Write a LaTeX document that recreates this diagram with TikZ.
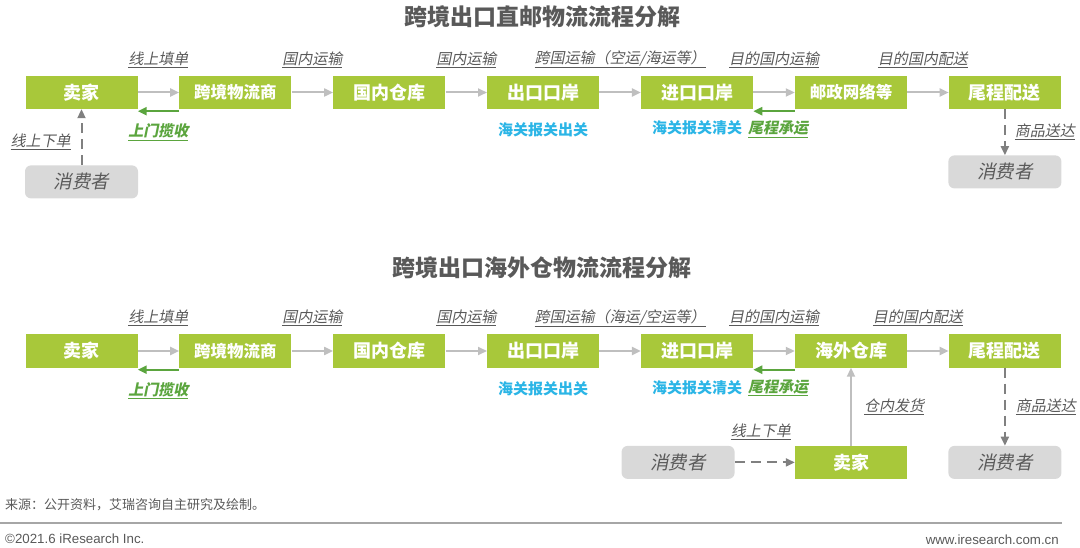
\documentclass[tikz,border=0pt]{standalone}
\usepackage{fontspec}
\usepackage{tikz}
\usetikzlibrary{positioning, arrows.meta}
\setmainfont{Liberation Sans}
\newfontfamily\cjk{Noto Sans CJK SC}
\newfontfamily\cjkit[FakeSlant=0.2]{Noto Sans CJK SC}
\definecolor{stagegreen}{HTML}{A8C83A}
\definecolor{pickgreen}{HTML}{5BA53E}
\definecolor{customsblue}{HTML}{2BB5E6}
\definecolor{flowgray}{HTML}{BFBFBF}
\definecolor{ordergray}{HTML}{808080}
\definecolor{buyerfill}{HTML}{D9D9D9}
\definecolor{textgray}{HTML}{595959}
\definecolor{rulegray}{HTML}{A6A6A6}

\begin{document}
\begin{tikzpicture}[x=1pt, y=-1pt, node distance=41.5pt,
    stage/.style={fill=stagegreen, minimum width=112pt, minimum height=33pt, inner sep=0pt, text=white, font=\cjk\bfseries\fontsize{18}{20}\selectfont},
    long/.style={font=\cjk\bfseries\fontsize{16.5}{18}\selectfont},
    buyer/.style={fill=buyerfill, rounded corners=6pt, minimum width=113pt, minimum height=33pt, inner sep=0pt, text=textgray, font=\cjkit\fontsize{18.5}{20}\selectfont},
    flow/.style={flowgray, line width=2pt, -{Triangle[length=9pt, width=8pt]}},
    order/.style={ordergray, line width=2pt, dash pattern=on 10pt off 6pt, -{Triangle[length=9pt, width=8pt]}},
    pickup/.style={pickgreen, line width=2.2pt, -{Triangle[length=9pt, width=8pt]}},
    note/.style={text=textgray, inner sep=0pt, font=\cjkit\fontsize{15}{17}\selectfont},
    greennote/.style={text=pickgreen, inner sep=0pt, font=\cjkit\bfseries\fontsize{15}{17}\selectfont},
    bluenote/.style={text=customsblue, inner sep=0pt, font=\cjk\bfseries\fontsize{15}{17}\selectfont},
    heading/.style={text=textgray, font=\cjk\bfseries\fontsize{23}{25}\selectfont},
    footnote/.style={anchor=west, inner sep=0pt, text=textgray, font=\fontsize{13.3}{15}\selectfont}]
    \useasboundingbox (0,0) rectangle (1080,548);

    % direct mail
    \node[heading] (title_a) at (542,17) {跨境出口直邮物流流程分解};
    \node[stage] (seller_a) at (81.5,92.5) {卖家};
    \node[stage, long, right=of seller_a] (forwarder_a) {跨境物流商};
    \node[stage, right=of forwarder_a] (depot_a) {国内仓库};
    \node[stage, right=of depot_a] (export_a) {出口口岸};
    \node[stage, right=of export_a] (import_a) {进口口岸};
    \node[stage, long, right=of import_a] (post_a) {邮政网络等};
    \node[stage, right=of post_a] (lastmile_a) {尾程配送};
    \node[buyer, below=56pt of seller_a] (buyer_a) {消费者};
    \node[buyer, below=46pt of lastmile_a] (buyer_b) {消费者};
    \node[bluenote] (out_a) at ([yshift=-21pt]export_a.south) {海关报关出关};
    \node[bluenote] (clear_a) at ([yshift=-19pt]import_a.south) {海关报关清关};

    \draw[flow] (seller_a) -- node[note, yshift=33pt] {\underline{线上填单}} (forwarder_a);
    \draw[flow] (forwarder_a) -- node[note, yshift=33pt] {\underline{国内运输}} (depot_a);
    \draw[flow] (depot_a) -- node[note, yshift=33pt] {\underline{国内运输}} (export_a);
    \draw[flow] (export_a) -- node[note, yshift=33pt] {\underline{跨国运输（空运/海运等）}} (import_a);
    \draw[flow] (import_a) -- node[note, yshift=33pt] {\underline{目的国内运输}} (post_a);
    \draw[flow] (post_a) -- node[note, yshift=33pt, xshift=-5pt] {\underline{目的国内配送}} (lastmile_a);
    \draw[pickup] ([yshift=-2pt]forwarder_a.south west) -- node[greennote, yshift=-21pt] {\underline{上门揽收}} ([yshift=-2pt]seller_a.south east);
    \draw[pickup] ([yshift=-2pt]post_a.south west) -- node[greennote, xshift=4pt, yshift=-18pt] {\underline{尾程承运}} ([yshift=-2pt]import_a.south east);
    \draw[order] (buyer_a) -- node[note, left=10pt, yshift=-5pt] {\underline{线上下单}} (seller_a);
    \draw[order] (lastmile_a) -- node[note, right=9pt] {\underline{商品送达}} (buyer_b);

    % overseas warehouse
    \node[heading] (title_b) at (542,268) {跨境出口海外仓物流流程分解};
    \node[stage] (seller_b) at (81.5,351) {卖家};
    \node[stage, long, right=of seller_b] (forwarder_b) {跨境物流商};
    \node[stage, right=of forwarder_b] (depot_b) {国内仓库};
    \node[stage, right=of depot_b] (export_b) {出口口岸};
    \node[stage, right=of export_b] (import_b) {进口口岸};
    \node[stage, right=of import_b] (overseas_b) {海外仓库};
    \node[stage, right=of overseas_b] (lastmile_b) {尾程配送};
    \node[stage, below=78pt of overseas_b] (seller_c) {卖家};
    \node[buyer, left=60pt of seller_c] (buyer_c) {消费者};
    \node[buyer, below=78pt of lastmile_b] (buyer_d) {消费者};
    \node[bluenote] (out_b) at ([yshift=-21pt]export_b.south) {海关报关出关};
    \node[bluenote] (clear_b) at ([yshift=-20pt]import_b.south) {海关报关清关};

    \draw[flow] (seller_b) -- node[note, yshift=33pt] {\underline{线上填单}} (forwarder_b);
    \draw[flow] (forwarder_b) -- node[note, yshift=33pt] {\underline{国内运输}} (depot_b);
    \draw[flow] (depot_b) -- node[note, yshift=33pt] {\underline{国内运输}} (export_b);
    \draw[flow] (export_b) -- node[note, yshift=33pt] {\underline{跨国运输（海运/空运等）}} (import_b);
    \draw[flow] (import_b) -- node[note, yshift=33pt] {\underline{目的国内运输}} (overseas_b);
    \draw[flow] (overseas_b) -- node[note, yshift=33pt, xshift=-10pt] {\underline{目的国内配送}} (lastmile_b);
    \draw[pickup] ([yshift=-2pt]forwarder_b.south west) -- node[greennote, yshift=-21pt] {\underline{上门揽收}} ([yshift=-2pt]seller_b.south east);
    \draw[pickup] ([yshift=-2pt]overseas_b.south west) -- node[greennote, xshift=4pt, yshift=-18pt] {\underline{尾程承运}} ([yshift=-2pt]import_b.south east);
    \draw[order] (buyer_c) -- node[note, yshift=31pt, xshift=-4pt] {\underline{线上下单}} (seller_c);
    \draw[flow] (seller_c) -- node[note, right=12pt] {\underline{仓内发货}} (overseas_b);
    \draw[order] (lastmile_b) -- node[note, right=10pt] {\underline{商品送达}} (buyer_d);

    % footer
    \node[footnote, font=\cjk\fontsize{13}{15}\selectfont] (source) at (5,505) {来源：公开资料，艾瑞咨询自主研究及绘制。};
    \draw[rulegray, line width=1.5pt] (0,523) -- (1062,523);
    \node[footnote] (copy) at (5,539) {©2021.6 iResearch Inc.};
    \node[footnote, anchor=east] (site) at (1059,540) {www.iresearch.com.cn};
\end{tikzpicture}
\end{document}
